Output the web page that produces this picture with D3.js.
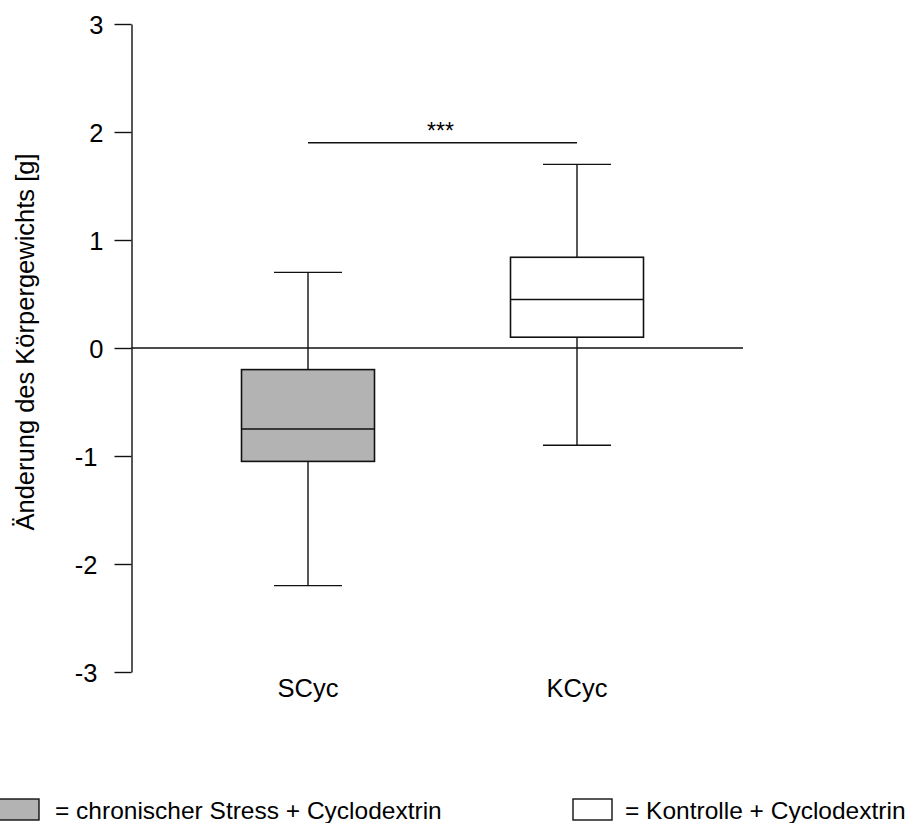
<!DOCTYPE html>
<html>
<head>
<meta charset="utf-8">
<script src="https://cdn.jsdelivr.net/npm/d3@7"></script>
<style>
  html, body { margin: 0; padding: 0; background: #fff; }
  svg { display: block; font-family: Arial, "Liberation Sans", Helvetica, sans-serif; }
</style>
</head>
<body>
<svg id="chart" width="910" height="823"></svg>
<script>
// Box plot statistics per group
const categories  = ["SCyc", "KCyc"];
const whiskerLow  = [-2.2, -0.9];
const q1          = [-1.05, 0.1];
const median      = [-0.75, 0.45];
const q3          = [-0.2, 0.84];
const whiskerHigh = [0.7, 1.7];
const boxFills    = ["#b3b3b3", "#ffffff"];

// Axis ticks
const yTicks = [-3, -2, -1, 0, 1, 2, 3];

// Significance bracket between the two groups
const sigPair  = ["SCyc", "KCyc"];
const sigLevel = 1.9;
const sigLabel = "***";

// Legend entries
const legendLabels = ["= chronischer Stress + Cyclodextrin", "= Kontrolle + Cyclodextrin"];

const svg = d3.select("#chart");
const ink = "#111";
const fontSize = 25.5;
const legendFontSize = 24.5;

const y = d3.scaleLinear().domain([-3, 3]).range([672, 24]);
const x = d3.scalePoint().domain(categories).range([308, 577]);

const axisX = 131.5;
const zeroEnd = 743;
const boxW = 133;
const capW = 68;

// Y axis
const yAxis = d3.axisLeft(y)
  .tickValues(yTicks)
  .tickSizeInner(17)
  .tickSizeOuter(0)
  .tickPadding(12)
  .tickFormat(d3.format("d"));

const gAxis = svg.append("g")
  .attr("transform", `translate(${axisX},0)`)
  .call(yAxis);
gAxis.select(".domain").attr("stroke", ink).attr("stroke-width", 1.4);
gAxis.selectAll(".tick line").attr("stroke", ink).attr("stroke-width", 1.4);
gAxis.selectAll(".tick text")
  .attr("fill", "#000")
  .attr("font-size", fontSize)
  .attr("font-family", "Arial, 'Liberation Sans', sans-serif")
  .text(d => d < 0 ? "-" + Math.abs(d) : String(d))
  .attr("x", d => d < 0 ? -34 : -28)
  .attr("dy", "0.36em");

// Y axis title
svg.append("text")
  .attr("transform", "translate(34,342) rotate(-90)")
  .attr("text-anchor", "middle")
  .attr("font-size", fontSize)
  .attr("fill", "#000")
  .text("Änderung des Körpergewichts [g]");

// Zero reference line
svg.append("line")
  .attr("x1", axisX).attr("x2", zeroEnd)
  .attr("y1", y(0)).attr("y2", y(0))
  .attr("stroke", ink).attr("stroke-width", 1.5);

// Box plots
const groups = categories.map((c, i) => ({
  cat: c, lo: whiskerLow[i], q1: q1[i], med: median[i], q3: q3[i], hi: whiskerHigh[i], fill: boxFills[i]
}));

const g = svg.selectAll("g.box").data(groups).join("g").attr("class", "box");

// whisker stems
g.append("line")
  .attr("x1", d => x(d.cat)).attr("x2", d => x(d.cat))
  .attr("y1", d => y(d.hi)).attr("y2", d => y(d.q3))
  .attr("stroke", ink).attr("stroke-width", 1.4);
g.append("line")
  .attr("x1", d => x(d.cat)).attr("x2", d => x(d.cat))
  .attr("y1", d => y(d.q1)).attr("y2", d => y(d.lo))
  .attr("stroke", ink).attr("stroke-width", 1.4);
// whisker caps
g.append("line")
  .attr("x1", d => x(d.cat) - capW / 2).attr("x2", d => x(d.cat) + capW / 2)
  .attr("y1", d => y(d.hi)).attr("y2", d => y(d.hi))
  .attr("stroke", ink).attr("stroke-width", 1.4);
g.append("line")
  .attr("x1", d => x(d.cat) - capW / 2).attr("x2", d => x(d.cat) + capW / 2)
  .attr("y1", d => y(d.lo)).attr("y2", d => y(d.lo))
  .attr("stroke", ink).attr("stroke-width", 1.4);
// boxes
g.append("rect")
  .attr("x", d => x(d.cat) - boxW / 2)
  .attr("width", boxW)
  .attr("y", d => y(d.q3))
  .attr("height", d => y(d.q1) - y(d.q3))
  .attr("fill", d => d.fill)
  .attr("stroke", ink).attr("stroke-width", 1.6);
// medians
g.append("line")
  .attr("x1", d => x(d.cat) - boxW / 2).attr("x2", d => x(d.cat) + boxW / 2)
  .attr("y1", d => y(d.med)).attr("y2", d => y(d.med))
  .attr("stroke", ink).attr("stroke-width", 1.5);

// Category labels
svg.selectAll("text.cat").data(categories).join("text")
  .attr("class", "cat")
  .attr("x", d => x(d))
  .attr("y", 697)
  .attr("text-anchor", "middle")
  .attr("font-size", fontSize)
  .attr("fill", "#000")
  .text(d => d);

// Significance line and stars
svg.append("line")
  .attr("x1", x(sigPair[0])).attr("x2", x(sigPair[1]))
  .attr("y1", y(sigLevel)).attr("y2", y(sigLevel))
  .attr("stroke", ink).attr("stroke-width", 1.5);
svg.append("text")
  .attr("x", (x(sigPair[0]) + x(sigPair[1])) / 2 - 2)
  .attr("y", y(sigLevel) - 4)
  .attr("text-anchor", "middle")
  .attr("font-size", 23)
  .attr("fill", "#000")
  .text(sigLabel);

// Legend
const legendItems = [
  { rx: 0, tx: 55, fill: boxFills[0], label: legendLabels[0] },
  { rx: 573, tx: 625, fill: boxFills[1], label: legendLabels[1] }
];
const lg = svg.selectAll("g.legend").data(legendItems).join("g").attr("class", "legend");
lg.append("rect")
  .attr("x", d => d.rx - (d.rx === 0 ? 2 : 0))
  .attr("y", 799)
  .attr("width", d => d.rx === 0 ? 41 : 39)
  .attr("height", 21)
  .attr("fill", d => d.fill)
  .attr("stroke", ink).attr("stroke-width", 1.4);
lg.append("text")
  .attr("x", d => d.tx)
  .attr("y", 819)
  .attr("font-size", legendFontSize)
  .attr("fill", "#000")
  .text(d => d.label);
</script>
</body>
</html>
